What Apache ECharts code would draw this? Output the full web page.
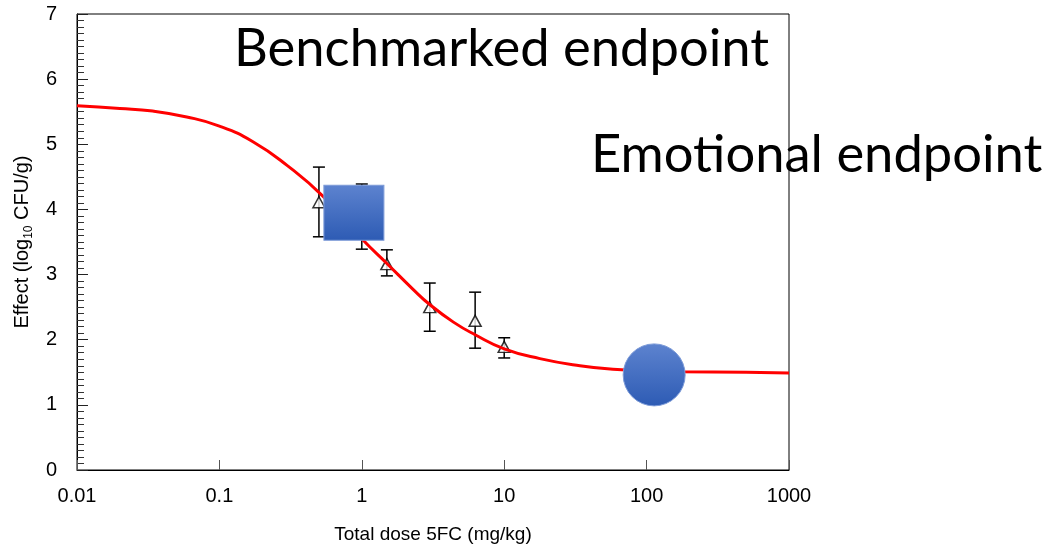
<!DOCTYPE html>
<html>
<head>
<meta charset="utf-8">
<script src="https://cdn.jsdelivr.net/npm/echarts@6/dist/echarts.min.js"></script>
<style>
html,body{margin:0;padding:0;background:#fff;}
#chart{width:1050px;height:549px;}
</style>
</head>
<body>
<div id="chart"></div>
<script>
// ---- data ----
const xTicks = [0.01, 0.1, 1, 10, 100, 1000];
const yTicks = [0, 1, 2, 3, 4, 5, 6, 7];

// observed means with error bars
const doses = [0.5, 1, 1.5, 3, 6.25, 10];
const means = [4.11, 3.89, 3.16, 2.5, 2.29, 1.89];
const lower = [3.58, 3.39, 2.98, 2.13, 1.87, 1.72];
const upper = [4.65, 4.39, 3.38, 2.87, 2.73, 2.03];

// fitted curve
const curveX = [0.01, 0.02, 0.034, 0.059, 0.1, 0.172, 0.297, 0.535, 1.02, 1.5, 2.3, 3.0, 4.4, 6.2, 10, 17.8, 34, 58, 113, 171, 500, 1000];
const curveY = [5.59, 5.55, 5.51, 5.42, 5.28, 5.04, 4.68, 4.2, 3.53, 3.17, 2.77, 2.54, 2.27, 2.08, 1.86, 1.71, 1.60, 1.545, 1.52, 1.51, 1.50, 1.49];

// endpoint markers
const benchmarkPoint = [0.88, 3.95];
const emotionalPoint = [113, 1.46];

const annotations = ['Benchmarked endpoint', 'Emotional endpoint'];
const xName = 'Total dose 5FC (mg/kg)';

// ---- chart ----
const chart = echarts.init(document.getElementById('chart'), null, {renderer: 'canvas'});

const blueGrad = () => new echarts.graphic.LinearGradient(0, 0, 0, 1, [
  {offset: 0, color: '#5d83cf'},
  {offset: 1, color: '#2d5bb4'}
]);

const labelFont = {fontFamily: '"Liberation Sans", Arial, sans-serif', fontSize: 20, color: '#000'};

const option = {
  animation: false,
  backgroundColor: '#fff',
  grid: {left: 77, right: 261, top: 14, bottom: 79, outerBoundsMode: 'none', containLabel: false, show: true, borderColor: '#000', borderWidth: 1, backgroundColor: 'transparent'},
  xAxis: {
    type: 'log',
    logBase: 10,
    min: xTicks[0],
    max: xTicks[xTicks.length - 1],
    splitNumber: xTicks.length - 1,
    name: xName,
    nameLocation: 'middle',
    nameGap: 55,
    nameTextStyle: {fontFamily: '"Liberation Sans", Arial, sans-serif', fontSize: 19, color: '#000'},
    axisLine: {show: true, lineStyle: {color: '#000', width: 1}},
    axisTick: {show: true, inside: true, length: 10, lineStyle: {color: '#555', width: 1}},
    minorTick: {show: false},
    splitLine: {show: false},
    axisLabel: Object.assign({margin: 16, formatter: v => String(+Number(v).toPrecision(3))}, labelFont)
  },
  yAxis: {
    type: 'value',
    min: yTicks[0],
    max: yTicks[yTicks.length - 1],
    interval: 1,
    name: '{a|Effect (log}{s|10}{a| CFU/g)}',
    nameLocation: 'middle',
    nameGap: 35,
    nameRotate: 90,
    nameTextStyle: {
      rich: {
        a: {fontFamily: '"Liberation Sans", Arial, sans-serif', fontSize: 20, color: '#000', lineHeight: 24, verticalAlign: 'middle'},
        s: {fontFamily: '"Liberation Sans", Arial, sans-serif', fontSize: 12, color: '#000', lineHeight: 24, verticalAlign: 'bottom'}
      }
    },
    axisLine: {show: true, lineStyle: {color: '#000', width: 1}},
    axisTick: {show: true, inside: true, length: 11, lineStyle: {color: '#222', width: 1}},
    minorTick: {show: true, splitNumber: 10, length: 7, lineStyle: {color: '#333', width: 1}},
    splitLine: {show: false},
    axisLabel: Object.assign({margin: 20}, labelFont)
  },
  graphic: [
    {type: 'text', x: 234, y: 49, z: -1, style: {text: annotations[0], font: '52.5px Lato, "Open Sans", sans-serif', fill: '#000', verticalAlign: 'middle', textVerticalAlign: 'middle'}},
    {type: 'text', x: 591, y: 155, z: -1, style: {text: annotations[1], font: '52.5px Lato, "Open Sans", sans-serif', fill: '#000', verticalAlign: 'middle', textVerticalAlign: 'middle'}}
  ],
  series: [
    {
      type: 'custom',
      z: 2,
      silent: true,
      data: doses.map((d, i) => [d, lower[i], upper[i]]),
      encode: {x: 0, y: [1, 2]},
      renderItem: function (params, api) {
        const x = api.value(0);
        const pLo = api.coord([x, api.value(1)]);
        const pHi = api.coord([x, api.value(2)]);
        const w = 6;
        const st = {stroke: '#000', lineWidth: 1.5};
        return {
          type: 'group',
          children: [
            {type: 'line', shape: {x1: pLo[0], y1: pLo[1], x2: pHi[0], y2: pHi[1]}, style: st},
            {type: 'line', shape: {x1: pHi[0] - w, y1: pHi[1], x2: pHi[0] + w, y2: pHi[1]}, style: st},
            {type: 'line', shape: {x1: pLo[0] - w, y1: pLo[1], x2: pLo[0] + w, y2: pLo[1]}, style: st}
          ]
        };
      }
    },
    {
      type: 'scatter',
      z: 3,
      symbol: 'triangle',
      symbolSize: [12, 11],
      itemStyle: {color: '#fff', borderColor: '#000', borderWidth: 1.5},
      data: doses.map((d, i) => [d, means[i]])
    },
    {
      type: 'line',
      z: 4,
      smooth: 0.5,
      showSymbol: false,
      symbol: 'none',
      lineStyle: {color: '#ff0000', width: 3},
      data: curveX.map((x, i) => [x, curveY[i]])
    },
    {
      type: 'scatter',
      z: 5,
      symbol: 'rect',
      symbolSize: [60, 55],
      itemStyle: {color: blueGrad(), borderColor: '#7d9bd8', borderWidth: 1, opacity: 1},
      data: [benchmarkPoint]
    },
    {
      type: 'scatter',
      z: 5,
      symbol: 'circle',
      symbolSize: 62,
      itemStyle: {color: blueGrad(), borderColor: '#7d9bd8', borderWidth: 1, opacity: 1},
      data: [emotionalPoint]
    }
  ]
};

chart.setOption(option);
</script>
</body>
</html>
